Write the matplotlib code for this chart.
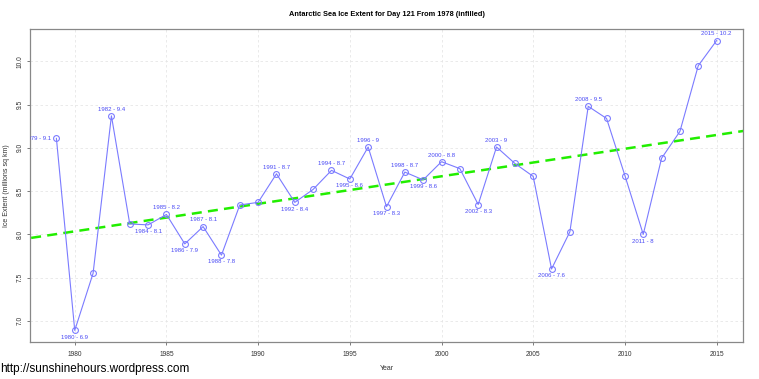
import matplotlib
matplotlib.use('Agg')
import matplotlib.pyplot as plt
import numpy as np

plt.rcParams['font.family'] = ['Liberation Sans', 'DejaVu Sans']

years = list(range(1979, 2016))
extent = [9.11, 6.89, 7.55, 9.37, 8.12, 8.11, 8.23, 7.89, 8.09, 7.76,
          8.34, 8.37, 8.70, 8.37, 8.52, 8.74, 8.64, 9.01, 8.32, 8.72,
          8.63, 8.84, 8.76, 8.345, 9.01, 8.82, 8.67, 7.60, 8.03, 9.48,
          9.34, 8.68, 8.00, 8.88, 9.19, 9.95, 10.24]

# which points get a "year - value" label and where
label_above = [1982, 1985, 1987, 1991, 1994, 1996, 1998, 2000, 2003, 2008, 2015]
label_below = [1980, 1984, 1986, 1988, 1992, 1995, 1997, 1999, 2002, 2006, 2011]
label_left = [1979]

fig = plt.figure(figsize=(7.59, 3.79), dpi=100)
ax = fig.add_axes([30 / 759, 1 - 342 / 379, 713 / 759, 313 / 379])

line_col = '#7b7bff'
text_col = '#4a4af5'

ax.plot(years, extent, color=line_col, lw=0.8, marker='o', ms=4.2,
        mfc='none', mec=line_col, mew=0.8, zorder=3)

# linear trend
coef = np.polyfit(years, extent, 1)
xr = np.array([1970, 2025])
ax.plot(xr, np.polyval(coef, xr), color='#22ee00', lw=1.8, ls=(0, (4, 2.5)), zorder=2)

fs = 4.3
for yr, v in zip(years, extent):
    s = '%d - %g' % (yr, round(v, 1))
    if yr in label_above:
        ax.annotate(s, (yr, v), xytext=(0, 3), textcoords='offset points',
                    ha='center', va='bottom', fontsize=fs, color=text_col)
    elif yr in label_below:
        ax.annotate(s, (yr, v), xytext=(0, -3), textcoords='offset points',
                    ha='center', va='top', fontsize=fs, color=text_col)
    elif yr in label_left:
        ax.annotate(s, (yr, v), xytext=(-3.5, 0), textcoords='offset points',
                    ha='right', va='center', fontsize=fs, color=text_col,
                    clip_on=True)

rng_x = years[-1] - years[0]
ax.set_xlim(years[0] - 0.04 * rng_x, years[-1] + 0.04 * rng_x)
rng_y = max(extent) - min(extent)
ax.set_ylim(min(extent) - 0.04 * rng_y, max(extent) + 0.04 * rng_y)

ax.set_xticks([1980, 1985, 1990, 1995, 2000, 2005, 2010, 2015])
ax.set_yticks([7.0, 7.5, 8.0, 8.5, 9.0, 9.5, 10.0])
ax.set_yticklabels(['7.0', '7.5', '8.0', '8.5', '9.0', '9.5', '10.0'],
                   rotation=90, va='center')
ax.tick_params(labelsize=4.8, length=2.5, width=0.6, color='#666666',
               labelcolor='#333333')
ax.tick_params(axis='x', pad=4)
ax.tick_params(axis='y', pad=2)
ax.grid(True, color='#e6e6e6', ls=(0, (3, 3)), lw=0.6)
ax.set_axisbelow(True)
for sp in ax.spines.values():
    sp.set_color('#888888')
    sp.set_linewidth(0.9)

ax.set_xlabel('Year', fontsize=5, color='#333333', labelpad=5)
ax.set_ylabel('Ice Extent (millions sq km)', fontsize=5, color='#333333', labelpad=5)
ax.set_title('Antarctic Sea Ice Extent for Day 121 From 1978 (infilled)',
             fontsize=5.3, fontweight='bold', pad=9)

fig.text(0.0, 1 - 369 / 379, 'http://sunshinehours.wordpress.com',
         fontsize=8.5, color='black', ha='left', va='center')

fig.savefig('out.png', dpi=100)
